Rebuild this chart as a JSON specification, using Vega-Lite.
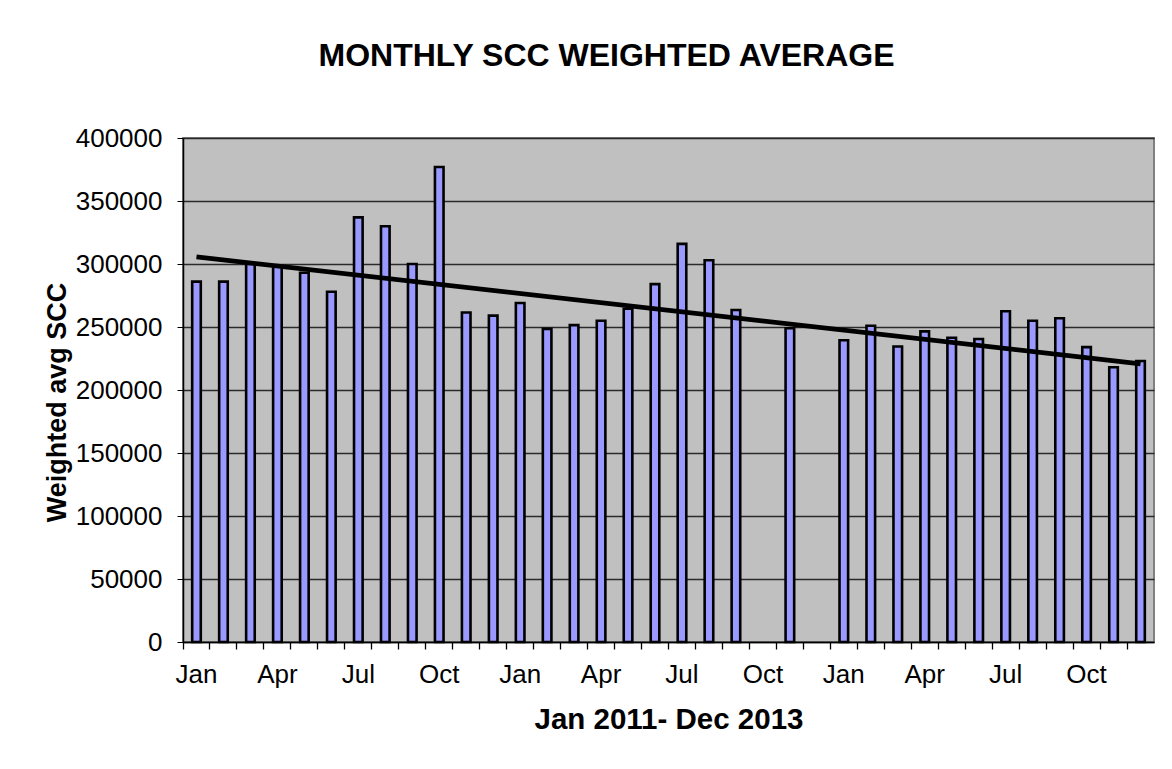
{
  "$schema": "https://vega.github.io/schema/vega-lite/v6.json",
  "autosize": "none",
  "width": 971,
  "height": 504,
  "padding": {"left": 183, "top": 138, "right": 18, "bottom": 127},
  "background": "white",
  "title": {
    "text": "MONTHLY SCC WEIGHTED AVERAGE",
    "font": "Liberation Sans",
    "fontSize": 32,
    "fontWeight": "bold",
    "color": "black",
    "anchor": "middle",
    "frame": "group",
    "dx": -62,
    "offset": 52
  },
  "datasets": {
    "monthly": [
      {"month": "2011-01", "scc": 286000},
      {"month": "2011-02", "scc": 286000},
      {"month": "2011-03", "scc": 300000},
      {"month": "2011-04", "scc": 298000},
      {"month": "2011-05", "scc": 293000},
      {"month": "2011-06", "scc": 278000},
      {"month": "2011-07", "scc": 337000},
      {"month": "2011-08", "scc": 330000},
      {"month": "2011-09", "scc": 300000},
      {"month": "2011-10", "scc": 377000},
      {"month": "2011-11", "scc": 261500},
      {"month": "2011-12", "scc": 259000},
      {"month": "2012-01", "scc": 269000},
      {"month": "2012-02", "scc": 248500},
      {"month": "2012-03", "scc": 251500},
      {"month": "2012-04", "scc": 255000},
      {"month": "2012-05", "scc": 264500},
      {"month": "2012-06", "scc": 284000},
      {"month": "2012-07", "scc": 316000},
      {"month": "2012-08", "scc": 303000},
      {"month": "2012-09", "scc": 263500},
      {"month": "2012-11", "scc": 249000},
      {"month": "2013-01", "scc": 239500},
      {"month": "2013-02", "scc": 251000},
      {"month": "2013-03", "scc": 234500},
      {"month": "2013-04", "scc": 246500},
      {"month": "2013-05", "scc": 241500},
      {"month": "2013-06", "scc": 240500},
      {"month": "2013-07", "scc": 262500},
      {"month": "2013-08", "scc": 255000},
      {"month": "2013-09", "scc": 257000},
      {"month": "2013-10", "scc": 234000},
      {"month": "2013-11", "scc": 218000},
      {"month": "2013-12", "scc": 223000}
    ],
    "trend": [
      {"month": "2011-01", "scc": 305600},
      {"month": "2013-12", "scc": 220800}
    ]
  },
  "config": {
    "view": {"fill": "#C0C0C0", "stroke": "#808080", "strokeWidth": 2},
    "font": "Liberation Sans"
  },
  "resolve": {"axis": {"x": "independent"}},
  "layer": [
    {
      "data": {"name": "monthly"},
      "mark": {"type": "bar", "fill": "#9999FF", "stroke": "black", "strokeWidth": 2.6, "size": 8.6},
      "encoding": {
        "x": {
          "field": "month",
          "type": "ordinal",
          "scale": {
            "domain": ["2011-01","2011-02","2011-03","2011-04","2011-05","2011-06","2011-07","2011-08","2011-09","2011-10","2011-11","2011-12",
                       "2012-01","2012-02","2012-03","2012-04","2012-05","2012-06","2012-07","2012-08","2012-09","2012-10","2012-11","2012-12",
                       "2013-01","2013-02","2013-03","2013-04","2013-05","2013-06","2013-07","2013-08","2013-09","2013-10","2013-11","2013-12"],
            "paddingInner": 0, "paddingOuter": 0
          },
          "axis": {
            "orient": "bottom",
            "title": "Jan 2011- Dec 2013",
            "titleFont": "Liberation Sans",
            "titleFontSize": 29.5,
            "titleFontWeight": "bold",
            "titleColor": "black",
            "titlePadding": 18,
            "labelAngle": 0,
            "labelFont": "Liberation Sans",
            "labelFontSize": 26,
            "labelColor": "black",
            "labelPadding": 19,
            "labelExpr": "slice(datum.value,5)=='01'?'Jan':slice(datum.value,5)=='04'?'Apr':slice(datum.value,5)=='07'?'Jul':slice(datum.value,5)=='10'?'Oct':''",
            "ticks": false,
            "domain": true,
            "domainColor": "black",
            "domainWidth": 1.5,
            "grid": false
          }
        },
        "y": {
          "field": "scc",
          "type": "quantitative",
          "scale": {"domain": [0, 400000], "nice": false},
          "axis": {
            "title": "Weighted avg SCC",
            "titleFont": "Liberation Sans",
            "titleFontSize": 27,
            "titleFontWeight": "bold",
            "titleColor": "black",
            "titlePadding": 4,
            "titleY": 264,
            "values": [0, 50000, 100000, 150000, 200000, 250000, 300000, 350000, 400000],
            "format": "d",
            "labelFont": "Liberation Sans",
            "labelFontSize": 26,
            "labelColor": "black",
            "labelPadding": 15,
            "tickColor": "black",
            "tickSize": 6,
            "domainColor": "black",
            "domainWidth": 1.5,
            "grid": true,
            "gridColor": "#2a2a2a",
            "gridWidth": 1.3
          }
        }
      }
    },
    {
      "data": {"name": "trend"},
      "mark": {"type": "line", "color": "black", "strokeWidth": 4.8},
      "encoding": {
        "x": {
          "field": "month",
          "type": "ordinal",
          "axis": {
            "orient": "bottom",
            "title": null,
            "labels": false,
            "ticks": true,
            "tickSize": 7,
            "tickWidth": 1.3,
            "tickColor": "black",
            "bandPosition": 0,
            "domain": false,
            "grid": false
          }
        },
        "y": {"field": "scc", "type": "quantitative"}
      }
    }
  ]
}
